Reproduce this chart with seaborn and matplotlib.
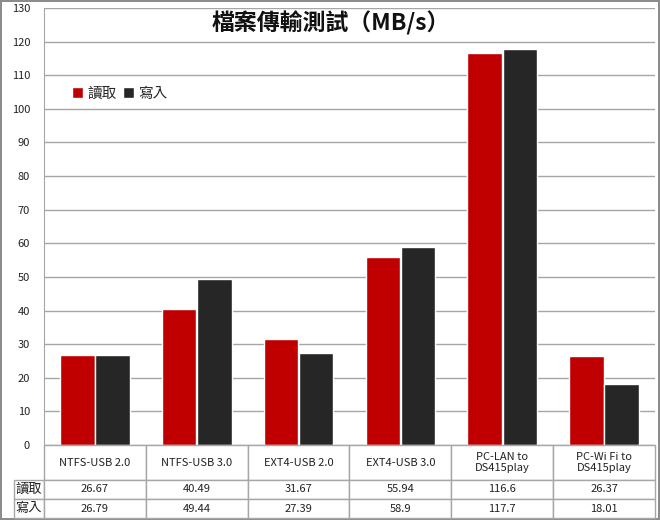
import pandas as pd
import matplotlib.pyplot as plt
import seaborn as sns

# chart data
categories = ["NTFS-USB 2.0", "NTFS-USB 3.0", "EXT4-USB 2.0", "EXT4-USB 3.0",
              "PC-LAN to\nDS415play", "PC-Wi Fi to\nDS415play"]
read_speed = [26.67, 40.49, 31.67, 55.94, 116.6, 26.37]
write_speed = [26.79, 49.44, 27.39, 58.9, 117.7, 18.01]
read_text = ["26.67", "40.49", "31.67", "55.94", "116.6", "26.37"]
write_text = ["26.79", "49.44", "27.39", "58.9", "117.7", "18.01"]
series = ["讀取", "寫入"]
colors = ["#C00000", "#262626"]

df = pd.DataFrame({
    "cat": categories * 2,
    "val": read_speed + write_speed,
    "series": [series[0]] * len(categories) + [series[1]] * len(categories),
})

sns.set_style("white")
plt.rcParams["font.family"] = ["Noto Sans CJK TC", "DejaVu Sans"]

fig = plt.figure(figsize=(6.6, 5.2), dpi=100)
fig.patch.set_edgecolor("#8c8c8c")
fig.patch.set_linewidth(1.5)
ax = fig.add_axes([44 / 660, 75 / 520, 611 / 660, 437 / 520])

sns.barplot(data=df, x="cat", y="val", hue="series", palette=colors,
            width=0.69, gap=0.02, saturation=1, ax=ax, zorder=3)

ax.set_ylim(0, 130)
ax.set_yticks(range(0, 131, 10))
ax.tick_params(axis="y", labelsize=8, length=0, pad=10, colors="#222222")
ax.yaxis.grid(True, color="#a6a6a6", linewidth=1)
ax.set_xticks([])
ax.set_xlabel("")
ax.set_ylabel("")
ax.set_xlim(-0.5, 5.5)
for s in ["top", "right", "bottom"]:
    ax.spines[s].set_visible(False)
ax.spines["left"].set_color("#a6a6a6")

ax.text(0.47, 0.965, "檔案傳輸測試（MB/s）", transform=ax.transAxes,
        ha="center", va="center", fontsize=16.5, fontweight="bold",
        color="#111111")

ax.legend(loc="upper left", bbox_to_anchor=(0.025, 0.85), frameon=False,
          ncol=2, fontsize=10.5, handlelength=0.75, handleheight=0.75,
          handletextpad=0.3, columnspacing=0.4)

# data table under the chart, in its own axes
tax = fig.add_axes([14 / 660, 2 / 520, 641 / 660, 73 / 520])
tax.axis("off")
cell_text = [[series[0]] + read_text, [series[1]] + write_text]
widths = [30 / 641] + [102 / 641] * len(categories)
tbl = tax.table(cellText=cell_text, colLabels=[""] + categories,
                colWidths=widths, cellLoc="center", bbox=[0, 0, 1, 1])
tbl.auto_set_font_size(False)
for (r, c), cell in tbl.get_celld().items():
    cell.set_edgecolor("#a6a6a6")
    cell.set_linewidth(1)
    cell.get_text().set_fontsize(8)
    cell.get_text().set_color("#222222")
    cell.set_height(35 if r == 0 else 19)
    if c == 0:
        cell.get_text().set_fontsize(9.5)
        if r == 0:
            cell.visible_edges = ""

fig.savefig("out.png", dpi=100)
